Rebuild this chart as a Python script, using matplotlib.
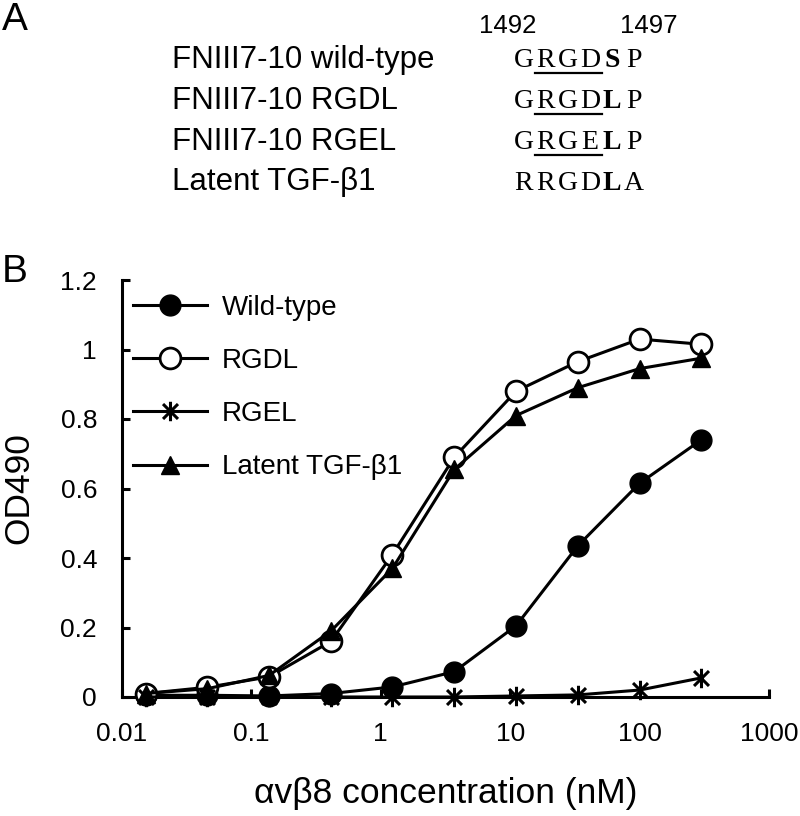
import matplotlib
matplotlib.use('Agg')
import matplotlib.pyplot as plt
from matplotlib.path import Path
from matplotlib.lines import Line2D

plt.rcParams['font.family'] = ['Liberation Sans', 'DejaVu Sans']

########################################################################
# Data
########################################################################

# avb8 concentration (nM), 3-fold dilutions from 300 nM
conc = [0.0152, 0.0457, 0.137, 0.412, 1.23, 3.70, 11.1, 33.3, 100, 300]

wild_type = [0.005, 0.005, 0.003, 0.010, 0.029, 0.073, 0.205, 0.435, 0.615, 0.740]
rgdl      = [0.010, 0.028, 0.058, 0.160, 0.410, 0.690, 0.880, 0.965, 1.030, 1.015]
rgel      = [0.000, 0.000, 0.000, 0.000, 0.000, 0.000, 0.003, 0.006, 0.020, 0.055]
latent    = [0.010, 0.024, 0.062, 0.190, 0.370, 0.655, 0.810, 0.890, 0.945, 0.975]

series_labels = ['Wild-type', 'RGDL', 'RGEL', 'Latent TGF-\u03b21']

x_ticks = [0.01, 0.1, 1, 10, 100, 1000]
x_tick_labels = ['0.01', '0.1', '1', '10', '100', '1000']
y_ticks = [0, 0.2, 0.4, 0.6, 0.8, 1.0, 1.2]
y_tick_labels = ['0', '0.2', '0.4', '0.6', '0.8', '1', '1.2']

# panel A
construct_names = ['FNIII7-10 wild-type', 'FNIII7-10 RGDL', 'FNIII7-10 RGEL', 'Latent TGF-\u03b21']
sequences = ['GRGDSP', 'GRGDLP', 'GRGELP', 'RRGDLA']
residue_numbers = ['1492', '1497']

########################################################################
# Helpers
########################################################################

W, H = 800, 816

def fx(px):
    return px / W

def fy(py):
    return 1 - py / H

# Excel style asterisk marker: an X plus a vertical bar
star = Path([(-1, -1), (1, 1), (-1, 1), (1, -1), (0, -1.3), (0, 1.3)],
            [Path.MOVETO, Path.LINETO, Path.MOVETO, Path.LINETO, Path.MOVETO, Path.LINETO])

########################################################################
# Figure
########################################################################

fig = plt.figure(figsize=(8, 8.16), dpi=100)

# ---- panel A ----
fig.text(fx(2), fy(2), 'A', fontsize=28, ha='left', va='top')
fig.text(fx(508), fy(33), residue_numbers[0], fontsize=18.5, ha='center', va='baseline')
fig.text(fx(649), fy(33), residue_numbers[1], fontsize=18.5, ha='center', va='baseline')

baselines = [68, 109, 150, 190]
seq_base = [67, 108, 149, 190]
char_w = 22
seq_x0 = 513
for i in range(4):
    fig.text(fx(172), fy(baselines[i]), construct_names[i], fontsize=22.5,
             ha='left', va='baseline')
    for j, ch in enumerate(sequences[i]):
        fig.text(fx(seq_x0 + (j + 0.5) * char_w), fy(seq_base[i]), ch,
                 family='Liberation Serif', fontsize=20,
                 weight='bold' if j == 4 else 'normal',
                 ha='center', va='baseline')
    if i < 3:
        fig.add_artist(Line2D([fx(535), fx(602)],
                              [fy(seq_base[i] + 6), fy(seq_base[i] + 6)],
                              color='black', lw=1.6))

# ---- panel B ----
fig.text(fx(2), fy(272), 'B', fontsize=28, ha='left', va='center')

ax = fig.add_axes([122 / W, 1 - 697 / H, 647 / W, 417 / H])

lw = 2.2
ax.plot(conc, wild_type, color='black', lw=lw, marker='o', ms=15,
        mfc='black', mec='black', label=series_labels[0], clip_on=False, zorder=3)
ax.plot(conc, rgdl, color='black', lw=lw, marker='o', ms=15, mew=2,
        mfc='white', mec='black', label=series_labels[1], clip_on=False, zorder=3)
ax.plot(conc, rgel, color='black', lw=lw, marker=star, ms=14, mew=2.2,
        mfc='none', mec='black', label=series_labels[2], clip_on=False, zorder=3)
ax.plot(conc, latent, color='black', lw=lw, marker='^', ms=13,
        mfc='black', mec='black', label=series_labels[3], clip_on=False, zorder=4)

ax.set_xscale('log')
ax.set_xlim(0.01, 1000)
ax.set_ylim(0, 1.2)
ax.set_xticks(x_ticks)
ax.set_xticklabels(x_tick_labels)
ax.minorticks_off()
ax.set_yticks(y_ticks)
ax.set_yticklabels(y_tick_labels)

for side in ['top', 'right']:
    ax.spines[side].set_visible(False)
for side in ['left', 'bottom']:
    ax.spines[side].set_linewidth(2.2)

ax.tick_params(direction='in', length=6, width=2.2, labelsize=19, pad=18)

ax.set_xlabel('\u03b1v\u03b28 concentration (nM)', fontsize=25.5, labelpad=22)
ax.set_ylabel('OD490', fontsize=25.5, labelpad=18)

ax.legend(loc='upper left', bbox_to_anchor=(0.017, 0.965), frameon=False,
          fontsize=20, handlelength=2.66, handletextpad=0.55,
          labelspacing=0.98, borderpad=0, borderaxespad=0)

plt.savefig('out.png', dpi=100)
